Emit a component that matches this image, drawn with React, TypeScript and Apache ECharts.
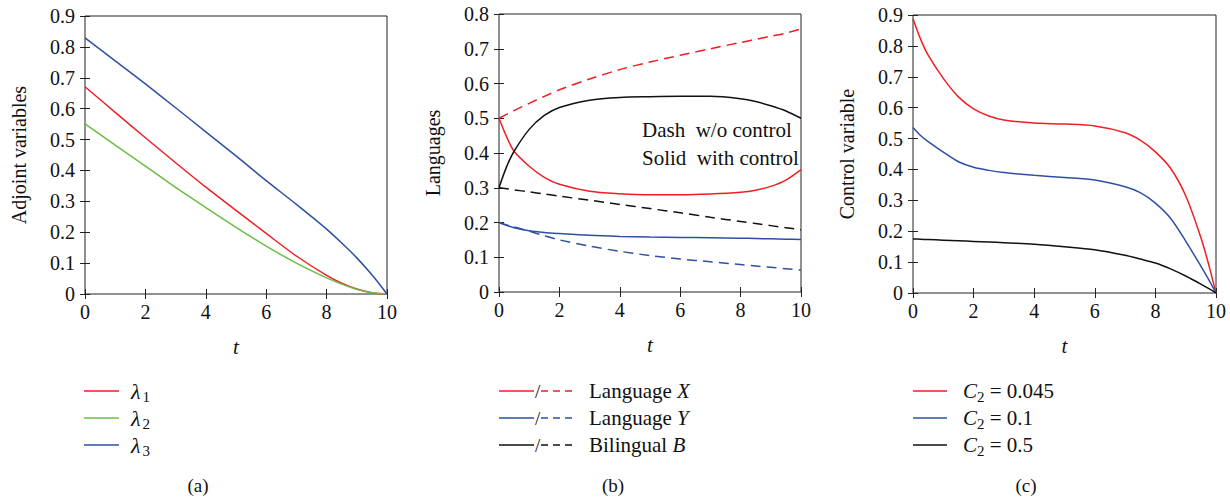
import React, { useEffect, useRef } from "react";
import * as echarts from "echarts";

// ---------- data ----------
const T_A = [0, 1, 2, 3, 4, 5, 6, 7, 8, 8.5, 9, 9.5, 10];
const LAMBDA1 = [0.671, 0.588, 0.506, 0.425, 0.346, 0.271, 0.196, 0.123, 0.06, 0.035, 0.016, 0.004, 0];
const LAMBDA2 = [0.551, 0.482, 0.414, 0.345, 0.28, 0.216, 0.155, 0.1, 0.052, 0.032, 0.015, 0.004, 0];
const LAMBDA3 = [0.829, 0.755, 0.68, 0.603, 0.525, 0.447, 0.367, 0.29, 0.21, 0.165, 0.117, 0.062, 0];

const T_B = [0, 0.25, 0.5, 1, 1.5, 2, 3, 4, 5, 6, 7, 8, 8.5, 9, 9.5, 10];
const X_NO_CONTROL = [0.5, 0.511, 0.522, 0.543, 0.563, 0.582, 0.613, 0.64, 0.662, 0.681, 0.7, 0.718, 0.727, 0.736, 0.745, 0.757];
const X_CONTROL = [0.5, 0.447, 0.405, 0.362, 0.33, 0.31, 0.29, 0.283, 0.28, 0.28, 0.282, 0.287, 0.293, 0.304, 0.322, 0.352];
const B_CONTROL = [0.3, 0.36, 0.405, 0.468, 0.508, 0.531, 0.552, 0.56, 0.562, 0.563, 0.563, 0.556, 0.548, 0.536, 0.521, 0.5];
const B_NO_CONTROL = [0.3, 0.297, 0.294, 0.288, 0.282, 0.276, 0.264, 0.252, 0.24, 0.228, 0.215, 0.203, 0.197, 0.191, 0.185, 0.179];
const Y_CONTROL = [0.2, 0.192, 0.185, 0.176, 0.171, 0.168, 0.163, 0.16, 0.158, 0.157, 0.156, 0.155, 0.154, 0.153, 0.152, 0.151];
const Y_NO_CONTROL = [0.2, 0.193, 0.187, 0.175, 0.162, 0.15, 0.132, 0.117, 0.105, 0.095, 0.087, 0.079, 0.075, 0.071, 0.067, 0.063];

const T_C = [0, 0.25, 0.5, 1, 1.5, 2, 2.5, 3, 4, 5, 6, 7, 7.5, 8, 8.5, 9, 9.5, 9.75, 10];
const U_C045 = [0.888, 0.822, 0.77, 0.695, 0.635, 0.596, 0.573, 0.56, 0.55, 0.547, 0.541, 0.519, 0.495, 0.457, 0.404, 0.315, 0.18, 0.095, 0];
const U_C1 = [0.536, 0.51, 0.49, 0.456, 0.425, 0.407, 0.397, 0.39, 0.381, 0.374, 0.366, 0.344, 0.325, 0.291, 0.242, 0.168, 0.087, 0.045, 0];
const U_C5 = [0.175, 0.174, 0.173, 0.171, 0.169, 0.167, 0.165, 0.163, 0.158, 0.15, 0.14, 0.122, 0.11, 0.097, 0.078, 0.055, 0.029, 0.015, 0];

const X_TICKS = [0, 2, 4, 6, 8, 10];
const Y_NAMES = ["Adjoint variables", "Languages", "Control variable"];
const Y_MAX = [0.9, 0.8, 0.9];
const CAPTIONS = ["(a)", "(b)", "(c)"];

// ---------- style ----------
const FONT = "Liberation Serif";
const NORMAL = { fontFamily: FONT, fontStyle: "normal", fontWeight: "normal" };
const ITALIC = { fontFamily: FONT, fontStyle: "italic", fontWeight: "normal" };
const RED = "#f01e23";
const GREEN = "#6cbd45";
const BLUE = "#2e4fa3";
const BLACK = "#111111";
const AXIS = "#222222";

const GRIDS = [
  { left: 85, top: 16, width: 302, height: 278 },
  { left: 499, top: 14, width: 302, height: 278 },
  { left: 913, top: 15, width: 303, height: 278 },
];

const pairs = (t: number[], v: number[]) => t.map((x, i) => [x, v[i]]);

export default function App() {
  const ref = useRef<HTMLDivElement>(null);

  useEffect(() => {
    document.body.style.margin = "0";
    if (!ref.current) return;
    const chart = echarts.init(ref.current, null, { renderer: "svg" });

    const xAxis: any[] = [];
    const yAxis: any[] = [];
    GRIDS.forEach((_, i) => {
      xAxis.push({
        type: "value",
        gridIndex: i,
        min: X_TICKS[0],
        max: X_TICKS[X_TICKS.length - 1],
        interval: 2,
        axisLine: { show: false },
        axisTick: { inside: true, length: 5, lineStyle: { color: AXIS } },
        axisLabel: { ...NORMAL, fontSize: 20, color: "#111", margin: 8 },
        splitLine: { show: false },
        name: "t",
        nameLocation: "middle",
        nameGap: 42,
        nameTextStyle: { ...ITALIC, fontSize: 21, color: "#111" },
      });
      yAxis.push({
        type: "value",
        gridIndex: i,
        min: 0,
        max: Y_MAX[i],
        interval: 0.1,
        axisLine: { show: false },
        axisTick: { inside: true, length: 5, lineStyle: { color: AXIS } },
        axisLabel: {
          ...NORMAL,
          fontSize: 20,
          color: "#111",
          margin: 10,
          formatter: (v: number) => (Math.abs(v) < 1e-9 ? "0" : v.toFixed(1)),
        },
        splitLine: { show: false },
        name: Y_NAMES[i],
        nameLocation: "middle",
        nameGap: 56,
        nameRotate: 90,
        nameTextStyle: { ...NORMAL, fontSize: 20, color: "#111" },
      });
    });
    GRIDS.forEach((_, i) => {
      xAxis.push({
        type: "value",
        gridIndex: i,
        position: "top",
        min: 0,
        max: 10,
        interval: 2,
        axisLine: { show: false },
        axisTick: { inside: true, length: 5, lineStyle: { color: AXIS } },
        axisLabel: { show: false },
        splitLine: { show: false },
      });
      yAxis.push({
        type: "value",
        gridIndex: i,
        position: "right",
        min: 0,
        max: Y_MAX[i],
        interval: 0.1,
        axisLine: { show: false },
        axisTick: { inside: true, length: 5, lineStyle: { color: AXIS } },
        axisLabel: { show: false },
        splitLine: { show: false },
      });
    });

    const line = (name: string, gi: number, t: number[], v: number[], color: string, dashed = false) => ({
      type: "line",
      name,
      xAxisIndex: gi,
      yAxisIndex: gi,
      data: pairs(t, v),
      showSymbol: false,
      smooth: 0.3,
      lineStyle: { color, width: 1.5, type: dashed ? [10, 6] : "solid" },
      z: 3,
    });

    const series = [
      line("λ1", 0, T_A, LAMBDA1, RED),
      line("λ2", 0, T_A, LAMBDA2, GREEN),
      line("λ3", 0, T_A, LAMBDA3, BLUE),
      line("Language X (w/o control)", 1, T_B, X_NO_CONTROL, RED, true),
      line("Language X (with control)", 1, T_B, X_CONTROL, RED),
      line("Bilingual B (with control)", 1, T_B, B_CONTROL, BLACK),
      line("Bilingual B (w/o control)", 1, T_B, B_NO_CONTROL, BLACK, true),
      line("Language Y (with control)", 1, T_B, Y_CONTROL, BLUE),
      line("Language Y (w/o control)", 1, T_B, Y_NO_CONTROL, BLUE, true),
      line("C2 = 0.045", 2, T_C, U_C045, RED),
      line("C2 = 0.1", 2, T_C, U_C1, BLUE),
      line("C2 = 0.5", 2, T_C, U_C5, BLACK),
    ];

    const LEG_Y = [391, 418, 445];
    const txt = (x: number, y: number, text: string, rich?: any, align = "left", size = 20) => ({
      type: "text",
      x,
      y,
      style: {
        text,
        ...NORMAL,
        fontSize: size,
        fill: "#111",
        align,
        verticalAlign: "middle",
        rich,
      },
    });
    const seg = (x1: number, x2: number, y: number, color: string, dash?: number[]) => ({
      type: "line",
      shape: { x1, y1: y, x2, y2: y },
      style: { stroke: color, lineWidth: 1.5, lineDash: dash },
    });

    const lamRich = {
      l: { ...ITALIC, fontSize: 22 },
      s: { ...NORMAL, fontSize: 15, padding: [12, 0, 0, 2] },
    };
    const cRich = {
      c: { ...ITALIC, fontSize: 21 },
      s: { ...NORMAL, fontSize: 15, padding: [12, 0, 0, 0] },
      n: { ...NORMAL, fontSize: 21 },
    };
    const lRich = {
      n: { ...NORMAL, fontSize: 21 },
      i: { ...ITALIC, fontSize: 21 },
    };

    const legA = [RED, GREEN, BLUE];
    const legB = [RED, BLUE, BLACK];
    const legBText = ["{n|Language }{i|X}", "{n|Language }{i|Y}", "{n|Bilingual }{i|B}"];
    const legC = [RED, BLUE, BLACK];
    const legCText = ["0.045", "0.1", "0.5"];

    const graphic: any[] = [];
    LEG_Y.forEach((y, i) => {
      graphic.push(seg(84, 119, y, legA[i]));
      graphic.push(txt(131, y, `{l|λ}{s|${i + 1}}`, lamRich));
      graphic.push(seg(499, 534, y, legB[i]));
      graphic.push(txt(535, y, "/", undefined, "left", 19));
      graphic.push(seg(541, 577, y, legB[i], [7, 5]));
      graphic.push(txt(589, y, legBText[i], lRich));
      graphic.push(seg(913, 947, y, legC[i]));
      graphic.push(txt(963, y, `{c|C}{s|2}{n| = ${legCText[i]}}`, cRich));
    });
    graphic.push(txt(642, 130, "Dash  w/o control", undefined, "left", 21));
    graphic.push(txt(642, 158, "Solid  with control", undefined, "left", 21));
    [198, 613, 1026].forEach((x, i) => graphic.push(txt(x, 485, CAPTIONS[i], undefined, "center", 19)));

    chart.setOption({
      animation: false,
      grid: GRIDS.map((g) => ({ ...g, show: true, borderColor: AXIS, borderWidth: 1 })),
      xAxis,
      yAxis,
      series,
      graphic,
    });

    return () => chart.dispose();
  }, []);

  return <div ref={ref} style={{ width: 1230, height: 502 }} />;
}
